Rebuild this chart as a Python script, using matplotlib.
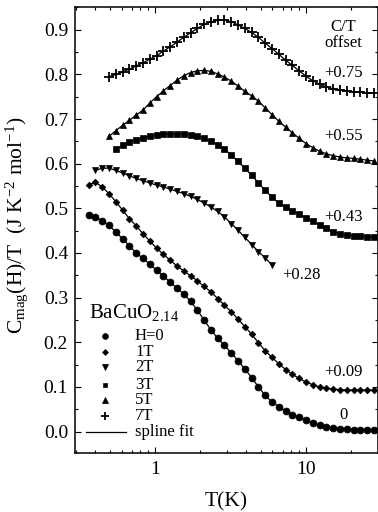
import matplotlib
matplotlib.use("Agg")
import matplotlib.pyplot as plt
from matplotlib.ticker import FixedLocator, NullFormatter, MultipleLocator

plt.rcParams['font.family'] = ['Liberation Serif', 'DejaVu Serif']
plt.rcParams['mathtext.fontset'] = 'custom'
plt.rcParams['mathtext.rm'] = 'Liberation Serif'
plt.rcParams['mathtext.it'] = 'Liberation Serif:italic'

# Temperature grid (K) of the measurements
T_grid = [0.363, 0.403, 0.447, 0.495, 0.550, 0.610, 0.676, 0.750, 0.832, 0.923,
          1.023, 1.135, 1.259, 1.396, 1.549, 1.718, 1.905, 2.113, 2.344, 2.600,
          2.884, 3.199, 3.548, 3.936, 4.365, 4.842, 5.370, 5.957, 6.607, 7.328,
          8.128, 9.016, 10.00, 11.09, 12.30, 13.65, 15.14, 16.79, 18.62, 20.65,
          22.91, 25.41, 28.18]

# C/T values (with offsets already included), J K^-2 mol^-1
C_H0 = [0.485, 0.480, 0.472, 0.462, 0.447, 0.432, 0.416, 0.400, 0.388, 0.375,
        0.361, 0.348, 0.335, 0.321, 0.308, 0.292, 0.272, 0.250, 0.228, 0.209,
        0.193, 0.176, 0.159, 0.140, 0.121, 0.100, 0.081, 0.066, 0.056, 0.046,
        0.038, 0.032, 0.026, 0.020, 0.015, 0.011, 0.008, 0.006, 0.005, 0.004,
        0.004, 0.003, 0.003]
C_1T = [0.553, 0.558, 0.548, 0.533, 0.515, 0.496, 0.477, 0.461, 0.443, 0.427,
        0.411, 0.397, 0.384, 0.371, 0.360, 0.349, 0.338, 0.325, 0.313, 0.298,
        0.283, 0.268, 0.252, 0.235, 0.218, 0.199, 0.181, 0.166, 0.152, 0.139,
        0.128, 0.119, 0.111, 0.105, 0.100, 0.097, 0.095, 0.094, 0.093, 0.093,
        0.093, 0.093, 0.093]
C_2T = [0.585, 0.590, 0.590, 0.585, 0.579, 0.573, 0.567, 0.562, 0.557,
        0.552, 0.548, 0.543, 0.538, 0.533, 0.527, 0.520, 0.512, 0.503, 0.493,
        0.481, 0.466, 0.451, 0.435, 0.419, 0.403, 0.389, 0.373]
C_3T = [0.632, 0.642, 0.648, 0.653, 0.658, 0.661,
        0.664, 0.666, 0.667, 0.667, 0.667, 0.665, 0.662, 0.657, 0.650, 0.642,
        0.632, 0.620, 0.605, 0.590, 0.574, 0.557, 0.540, 0.525, 0.512, 0.502,
        0.494, 0.487, 0.479, 0.471, 0.463, 0.455, 0.448, 0.443, 0.440, 0.438,
        0.437, 0.436, 0.435]
C_5T = [0.661, 0.674, 0.686, 0.697, 0.709, 0.720, 0.736,
        0.750, 0.763, 0.775, 0.787, 0.797, 0.804, 0.808, 0.809, 0.807, 0.801,
        0.794, 0.785, 0.774, 0.762, 0.752, 0.740, 0.725, 0.710, 0.695, 0.682,
        0.669, 0.657, 0.645, 0.636, 0.628, 0.622, 0.618, 0.615, 0.613, 0.612,
        0.610, 0.608, 0.606]
C_7T = [0.795, 0.800, 0.806, 0.812, 0.819, 0.826, 0.834,
        0.842, 0.852, 0.862, 0.872, 0.883, 0.893, 0.903, 0.912, 0.918, 0.921,
        0.922, 0.918, 0.911, 0.903, 0.894, 0.883, 0.870, 0.858, 0.845, 0.832,
        0.820, 0.808, 0.796, 0.786, 0.778, 0.772, 0.768, 0.765, 0.763, 0.761,
        0.760, 0.759, 0.758]

# index in T_grid of the first point of each curve
starts = [0, 0, 1, 4, 3, 3]

labels = ['H=0', '1T', '2T', '3T', '5T', '7T']
series = [C_H0, C_1T, C_2T, C_3T, C_5T, C_7T]
markers = ['o', 'D', 'v', 's', '^', '+']
msizes = [5.0, 3.4, 4.6, 3.8, 4.6, 6.5]
leg_msizes = [4.2, 3.0, 4.0, 3.4, 4.0, 6.0]
offset_labels = ['0', '+0.09', '+0.28', '+0.43', '+0.55', '+0.75']
offset_pos = [(17.6, 0.037), (17.6, 0.134), (9.4, 0.351), (17.6, 0.481),
              (17.6, 0.661), (17.6, 0.804)]

fig = plt.figure(figsize=(3.78, 5.12), dpi=100)
ax = fig.add_axes([75/378, (512-453)/512, 303/378, 446/512])

for vals, st, mk, ms in zip(series, starts, markers, msizes):
    T = T_grid[st:st + len(vals)]
    ax.plot(T, vals, '-', color='black', lw=0.9)
    ax.plot(T, vals, linestyle='none', marker=mk, color='black', ms=ms,
            mew=1.3 if mk == '+' else 0.5)

ax.set_xscale('log')
ax.set_xlim(0.295, 30)
ax.set_ylim(-0.048, 0.951)
ax.xaxis.set_major_locator(FixedLocator([1, 10]))
ax.xaxis.set_minor_locator(FixedLocator([0.3, 0.4, 0.5, 0.6, 0.7, 0.8, 0.9,
                                         2, 3, 4, 5, 6, 7, 8, 9, 20, 30]))
ax.xaxis.set_minor_formatter(NullFormatter())
ax.set_xticklabels(['1', '10'])
ax.yaxis.set_major_locator(MultipleLocator(0.1))
ax.yaxis.set_minor_locator(MultipleLocator(0.05))
ax.yaxis.set_major_formatter(plt.FuncFormatter(lambda v, p: f"{v:.1f}"))
ax.tick_params(which='both', direction='in', top=True, right=True,
               labelsize=14, width=0.8)
ax.tick_params(which='major', length=4)
ax.tick_params(which='minor', length=2.5)
ax.tick_params(axis='x', pad=6)
ax.tick_params(axis='y', pad=5)
for s in ax.spines.values():
    s.set_linewidth(1.1)

ax.set_xlabel('T(K)', fontsize=15.5, labelpad=10)
ax.set_ylabel(r'C$_{\rm mag}$(H)/T  (J K$^{-2}$ mol$^{-1}$)', fontsize=15.5)
ax.yaxis.set_label_coords(-0.147, 0.51)

for lab, (tx, ty) in zip(offset_labels, offset_pos):
    ax.text(tx, ty, lab, fontsize=12, ha='center', va='center')
ax.text(17.6, 0.907, 'C/T', fontsize=12, ha='center', va='center')
ax.text(17.6, 0.871, 'offset', fontsize=12, ha='center', va='center')

# legend block
ax.text(0.045, 0.316, r'BaCuO$_{2.14}$', transform=ax.transAxes, fontsize=15,
        ha='left', va='center')
leg_y = [0.262, 0.227, 0.192, 0.152, 0.119, 0.083]
for lab, mk, ms, yy in zip(labels, markers, leg_msizes, leg_y):
    ax.plot([0.099], [yy], marker=mk, color='black', ms=ms,
            mew=1.3 if mk == '+' else 0.5, transform=ax.transAxes, clip_on=False)
    ax.text(0.198, yy, lab, transform=ax.transAxes, fontsize=12, ha='left', va='center')
ax.plot([0.036, 0.168], [0.048, 0.048], color='black', lw=0.9, transform=ax.transAxes)
ax.text(0.198, 0.048, 'spline fit', transform=ax.transAxes, fontsize=12,
        ha='left', va='center')

fig.savefig('out.png', dpi=100)
